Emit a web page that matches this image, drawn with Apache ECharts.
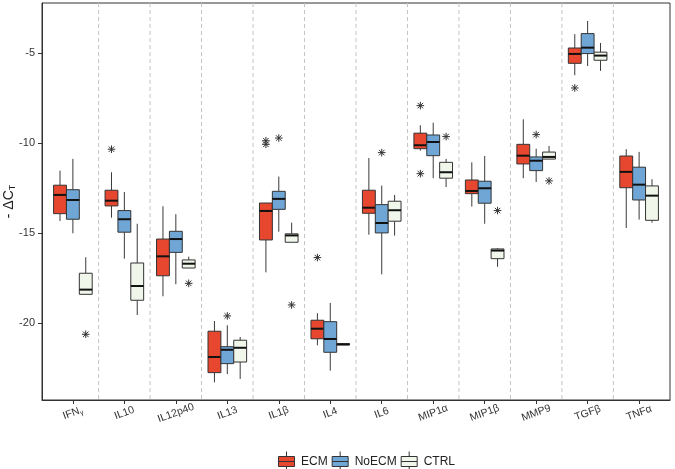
<!DOCTYPE html>
<html>
<head>
<meta charset="utf-8">
<script src="https://cdn.jsdelivr.net/npm/echarts@6/dist/echarts.min.js"></script>
<style>html,body{margin:0;padding:0;background:#fff}#c{width:675px;height:469px}</style>
</head>
<body>
<div id="c"></div>
<script>
// ---- data ----
const categories = ['IFNγ','IL10','IL12p40','IL13','IL1β','IL4','IL6','MIP1α','MIP1β','MMP9','TGFβ','TNFα'];
const yTicks = [-20, -15, -10, -5];
// [lower whisker, Q1, median, Q3, upper whisker]
const ecmStats = [
  [-14.32, -13.91, -12.87, -12.33, -11.52],
  [-14.13, -13.48, -13.19, -12.61, -11.61],
  [-18.50, -17.36, -16.28, -15.32, -13.50],
  [-23.28, -22.74, -21.87, -20.44, -19.87],
  [-17.17, -15.37, -13.76, -13.32, -13.32],
  [-21.22, -20.86, -20.30, -19.83, -19.44],
  [-15.08, -13.89, -13.58, -12.61, -10.82],
  [-10.41, -10.30, -10.11, -9.44, -9.00],
  [-13.52, -12.80, -12.65, -12.04, -11.06],
  [-11.94, -11.15, -10.69, -10.06, -8.67],
  [-6.22, -5.56, -5.04, -4.71, -3.94],
  [-14.71, -12.47, -11.59, -10.71, -10.33]
];
const noecmStats = [
  [-15.00, -14.22, -13.15, -12.58, -10.87],
  [-16.41, -14.94, -14.22, -13.74, -12.71],
  [-17.83, -16.06, -15.32, -14.89, -13.94],
  [-22.82, -22.24, -21.47, -21.30, -20.11],
  [-14.91, -13.67, -13.09, -12.67, -11.85],
  [-22.63, -21.61, -20.87, -19.91, -18.87],
  [-17.28, -14.98, -14.43, -13.41, -12.35],
  [-11.94, -10.69, -9.93, -9.54, -8.86],
  [-14.47, -13.33, -12.50, -12.11, -10.71],
  [-12.15, -11.52, -10.97, -10.76, -10.30],
  [-5.71, -5.02, -4.69, -3.91, -3.21],
  [-14.24, -13.15, -12.30, -11.33, -10.48]
];
const ctrlStats = [
  [-18.39, -18.39, -18.13, -17.22, -16.33],
  [-19.54, -18.72, -17.93, -16.65, -14.47],
  [-16.93, -16.93, -16.69, -16.48, -16.30],
  [-23.09, -22.15, -21.36, -20.94, -20.76],
  [-15.50, -15.50, -15.12, -15.03, -14.41],
  [-21.20, -21.20, -21.17, -21.13, -21.10],
  [-15.13, -14.33, -13.72, -13.22, -12.87],
  [-12.43, -11.94, -11.61, -11.06, -10.87],
  [-16.86, -16.41, -15.96, -15.87, -15.82],
  [-10.88, -10.88, -10.76, -10.49, -10.15],
  [-5.98, -5.39, -5.13, -4.94, -4.43],
  [-14.41, -14.28, -12.91, -12.37, -12.00]
];
// outliers: [category index, value]
const ecmOutliers = [[1,-10.33],[4,-9.86],[4,-10.06],[5,-16.35],[7,-7.91],[7,-11.69],[10,-6.93]];
const noecmOutliers = [[3,-19.59],[4,-9.71],[6,-10.52],[9,-9.52]];
const ctrlOutliers = [[0,-20.61],[2,-17.78],[4,-18.98],[7,-9.63],[8,-13.74],[9,-12.09]];

// ---- style ----
const groups = [
  {name:'ECM', stats: ecmStats, outliers: ecmOutliers, color:'#E8472F', off:-0.25},
  {name:'NoECM', stats: noecmStats, outliers: noecmOutliers, color:'#6FA6D6', off:0},
  {name:'CTRL', stats: ctrlStats, outliers: ctrlOutliers, color:'#F0F7EA', off:0.25}
];
const BOXW = 0.25;
const FONT = '"Liberation Sans", Arial, sans-serif';
const catPos = categories.map((c,i)=>i+1);

function boxRender(color){
  return function(params, api){
    const x = api.value(0);
    const lo = api.coord([x, api.value(1)]);
    const q1 = api.coord([x, api.value(2)]);
    const md = api.coord([x, api.value(3)]);
    const q3 = api.coord([x, api.value(4)]);
    const hi = api.coord([x, api.value(5)]);
    const w = api.size([BOXW, 0])[0];
    const cx = lo[0], l = cx - w/2;
    const ws = {stroke:'#3a3a3a', lineWidth:1};
    return {type:'group', children:[
      {type:'line', shape:{x1:cx,y1:hi[1],x2:cx,y2:q3[1]}, style:ws},
      {type:'line', shape:{x1:cx,y1:q1[1],x2:cx,y2:lo[1]}, style:ws},
      {type:'rect', shape:{x:l, y:q3[1], width:w, height:Math.max(q1[1]-q3[1],0.5)}, style:{fill:color, stroke:'#333', lineWidth:1}},
      {type:'line', shape:{x1:l,y1:md[1],x2:l+w,y2:md[1]}, style:{stroke:'#111', lineWidth:2}}
    ]};
  };
}

const series = [];
// dashed separators between categories
series.push({
  type:'custom', silent:true, z:1,
  data: catPos.slice(0,-1).map(p=>[p+0.5]),
  encode:{x:0},
  renderItem:function(params, api){
    const x = api.value(0);
    const cs = params.coordSys;
    const px = api.coord([x, -10])[0];
    return {type:'line', shape:{x1:px, y1:cs.y, x2:px, y2:cs.y+cs.height}, style:{stroke:'#C4C4C4', lineWidth:1, lineDash:[4,3]}};
  }
});
groups.forEach(g=>{
  series.push({
    type:'custom', name:g.name, z:3,
    itemStyle:{color:g.color},
    data: g.stats.map((s,i)=>[catPos[i]+g.off].concat(s)),
    encode:{x:0, y:[1,2,3,4,5]},
    renderItem: boxRender(g.color)
  });
});
// outliers (asterisks)
series.push({
  type:'custom', silent:true, z:4,
  data: [].concat(...groups.map(g=>g.outliers.map(o=>[catPos[o[0]]+g.off, o[1]]))),
  encode:{x:0, y:1},
  renderItem:function(params, api){
    const p = api.coord([api.value(0), api.value(1)]);
    const r = 3.8, d = r*0.72;
    const st = {stroke:'#333', lineWidth:1};
    return {type:'group', children:[
      {type:'line', shape:{x1:p[0]-r,y1:p[1],x2:p[0]+r,y2:p[1]}, style:st},
      {type:'line', shape:{x1:p[0],y1:p[1]-r,x2:p[0],y2:p[1]+r}, style:st},
      {type:'line', shape:{x1:p[0]-d,y1:p[1]-d,x2:p[0]+d,y2:p[1]+d}, style:st},
      {type:'line', shape:{x1:p[0]-d,y1:p[1]+d,x2:p[0]+d,y2:p[1]-d}, style:st}
    ]};
  }
});

const chart = echarts.init(document.getElementById('c'), null, {renderer:'canvas'});
chart.setOption({
  animation:false,
  backgroundColor:'#ffffff',
  textStyle:{fontFamily:FONT},
  grid:{left:42, right:5, top:3, bottom:69, containLabel:false, outerBoundsMode:'none', show:true, borderColor:'#333', borderWidth:1, backgroundColor:'rgba(0,0,0,0)'},
  xAxis:{
    type:'value', min:0.4, max:12.6,
    axisLine:{show:true, onZero:false, lineStyle:{color:'#333', width:1}},
    axisTick:{show:true, customValues:catPos, length:4, lineStyle:{color:'#333'}},
    axisLabel:{
      customValues:catPos, rotate:20, fontSize:10.5, color:'#333', margin:13,
      align:'center', verticalAlign:'middle', fontFamily:FONT,
      formatter:function(v){
        const s = categories[Math.round(v)-1] || '';
        if (s === 'IFNγ') return '{n|IFN}{s|γ}';
        return s;
      },
      rich:{n:{fontSize:10.5, color:'#333', fontFamily:FONT}, s:{fontSize:7, color:'#333', verticalAlign:'bottom', padding:[6,0,0,0], fontFamily:FONT}}
    },
    splitLine:{show:false}
  },
  yAxis:{
    type:'value', min:-24.26, max:-2.21,
    axisLine:{show:true, onZero:false, lineStyle:{color:'#333', width:1}},
    axisTick:{show:true, customValues:yTicks, length:4, lineStyle:{color:'#333'}},
    axisLabel:{customValues:yTicks, fontSize:11, color:'#333', margin:7, fontFamily:FONT},
    splitLine:{show:false},
    name:'{a|- ΔC}{b|T}', nameLocation:'middle', nameGap:25, nameRotate:90, nameMoveOverlap:false,
    nameTextStyle:{rich:{a:{fontSize:14, color:'#222', fontFamily:FONT}, b:{fontSize:9, color:'#222', verticalAlign:'bottom', padding:[7,0,0,0], fontFamily:FONT}}}
  },
  legend:{
    data:['ECM','NoECM','CTRL'],
    left:273, top:446, itemWidth:19, itemHeight:20, itemGap:4,
    icon:'path://M2,5 L18,5 L18,15 L2,15 Z M10,0 L10,5 M10,15 L10,20 M2,10 L18,10',
    itemStyle:{borderColor:'#333', borderWidth:1},
    textStyle:{fontSize:12, color:'#222', fontFamily:FONT}
  },
  series:series
});
</script>
</body>
</html>
